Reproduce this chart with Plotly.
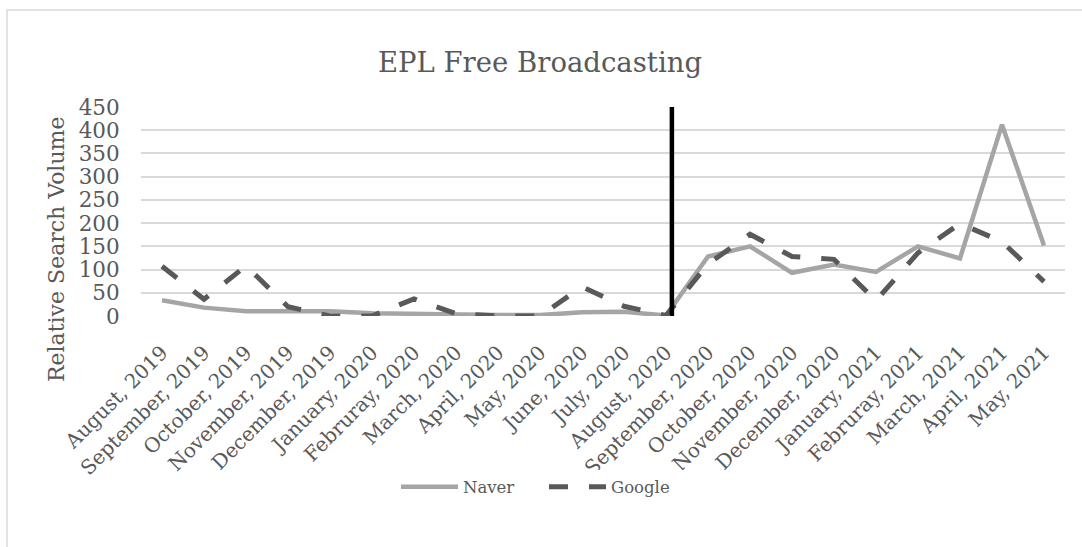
import plotly.graph_objects as go

months = ["August, 2019", "September, 2019", "October, 2019", "November, 2019",
          "December, 2019", "January, 2020", "Februray, 2020", "March, 2020",
          "April, 2020", "May, 2020", "June, 2020", "July, 2020", "August, 2020",
          "September, 2020", "October, 2020", "November, 2020", "December, 2020",
          "January, 2021", "Februray, 2021", "March, 2021", "April, 2021", "May, 2021"]
naver = [34, 18, 10, 9, 10, 6, 4, 4, 2, 2, 8, 9, 1,
         128, 150, 93, 111, 95, 150, 124, 412, 152]
google = [107, 36, 108, 20, 0, 0, 37, 5, 0, 0, 63, 21, 1,
          112, 176, 128, 122, 33, 136, 199, 160, 74]
yticks = [0, 50, 100, 150, 200, 250, 300, 350, 400, 450]
divider_pos = 12.14

FONT = "DejaVu Serif"
TXT = "#595959"

fig = go.Figure()
fig.add_trace(go.Scatter(x=list(range(len(months))), y=naver, name="Naver", mode="lines",
                         line=dict(color="#A5A5A5", width=4.5)))
fig.add_trace(go.Scatter(x=list(range(len(months))), y=google, name="Google", mode="lines",
                         line=dict(color="#595959", width=5, dash="19px,21px")))

L, R, T, B = 141, 17, 107, 231
W, H = 1082, 547
pw, ph = W - L - R, H - T - B

fig.add_shape(type="line", xref="x", yref="y", x0=divider_pos, x1=divider_pos,
              y0=0, y1=450, line=dict(color="black", width=4.5))
fig.add_shape(type="rect", xref="paper", yref="paper",
              x0=(7 - L) / pw, x1=(1090 - L) / pw,
              y0=(H - B - 560) / ph, y1=(H - B - 10) / ph,
              line=dict(color="#D9D9D9", width=1.5), fillcolor="rgba(0,0,0,0)", layer="below")

fig.add_annotation(text="Relative Search Volume", textangle=-90, showarrow=False,
                   xref="paper", yref="paper", x=(56 - L) / pw, y=(H - B - 250) / ph,
                   xanchor="center", yanchor="middle",
                   font=dict(family=FONT, size=22, color=TXT))

fig.update_layout(
    width=W, height=H,
    margin=dict(l=L, r=R, t=T, b=B),
    paper_bgcolor="white", plot_bgcolor="white",
    title=dict(text="EPL Free Broadcasting", x=(540) / W, xanchor="center",
               y=1 - 62 / H, yanchor="middle", yref="container",
               font=dict(family=FONT, size=27.5, color=TXT)),
    xaxis=dict(tickmode="array", tickvals=list(range(len(months))), ticktext=months,
               range=[-0.5, len(months) - 0.5], tickangle=-45, showgrid=False,
               showline=False, zeroline=False, ticks="outside", ticklen=16,
               tickcolor="rgba(0,0,0,0)",
               tickfont=dict(family=FONT, size=20, color=TXT)),
    yaxis=dict(range=[0, 450], tickvals=yticks, showgrid=True, gridcolor="#D9D9D9",
               gridwidth=1.5, zeroline=False, showline=False,
               ticks="outside", ticklen=16, tickcolor="rgba(0,0,0,0)",
               tickfont=dict(family=FONT, size=21.5, color=TXT)),
    legend=dict(orientation="h", x=(544 - L) / pw, xanchor="center",
                y=-(487 - (H - B)) / ph, yanchor="middle",
                itemwidth=57, entrywidth=76, entrywidthmode="pixels",
                font=dict(family=FONT, size=16.5, color=TXT)),
    showlegend=True,
)

fig.write_html("out.html")
